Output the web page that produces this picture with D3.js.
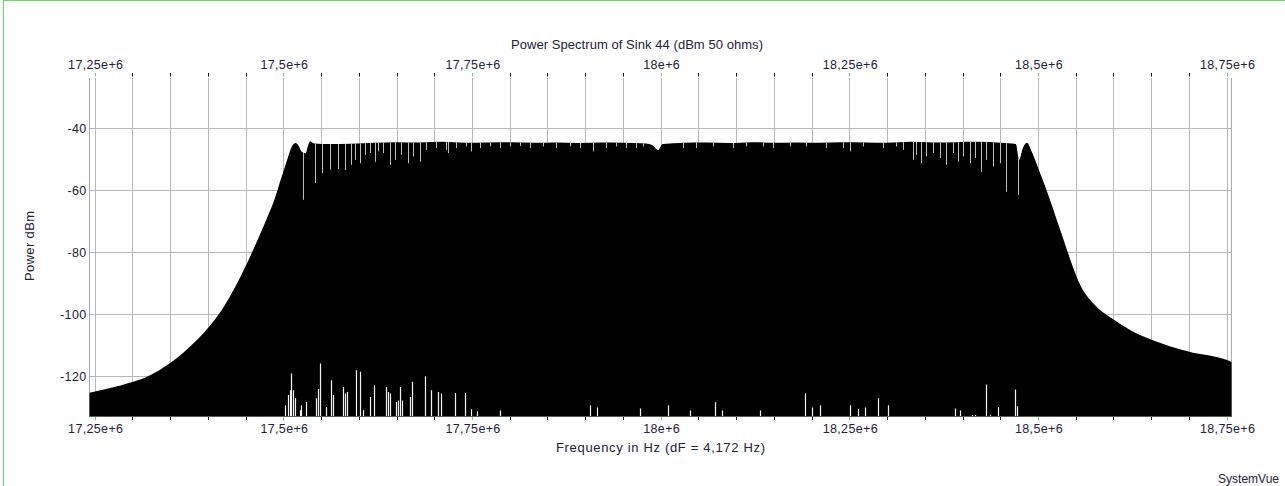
<!DOCTYPE html>
<html>
<head>
<meta charset="utf-8">
<script src="https://cdn.jsdelivr.net/npm/d3@7"></script>
<style>
  html, body { margin: 0; padding: 0; background: #fff; }
  svg { display: block; font-family: "Liberation Sans", Arial, sans-serif; }
</style>
</head>
<body>
<svg id="chart" width="1285" height="486"></svg>
<script>
// Spectrum envelope: frequency (MHz) and peak level (dBm)
const envFreq = [17.2424, 17.2629, 17.2848, 17.2994, 17.3202, 17.3498, 17.3732, 17.3997, 17.4174, 17.4351,
  17.4505, 17.4660, 17.4792, 17.4881, 17.4947, 17.5014, 17.5057, 17.5106, 17.5154, 17.5200,
  17.5235, 17.5290, 17.5320, 17.5349, 17.5400, 17.5600, 17.5900, 17.6200, 17.6500, 17.6800,
  17.7100, 17.7400, 17.7700, 17.8000, 17.8300, 17.8600, 17.8900, 17.9200, 17.9500, 17.9800,
  17.9880, 17.9960, 18.0020, 18.0300, 18.0600, 18.0900, 18.1200, 18.1500, 18.1800, 18.2100,
  18.2400, 18.2700, 18.3000, 18.3300, 18.3600, 18.3900, 18.4200, 18.4500, 18.4700, 18.4745,
  18.4790, 18.4845, 18.4920, 18.5000, 18.5131, 18.5264, 18.5396, 18.5450, 18.5500, 18.5560,
  18.5630, 18.5706, 18.5800, 18.5900, 18.6000, 18.6236, 18.6500, 18.7000, 18.7500, 18.7558];
const envDb = [-125.2, -124.1, -122.8, -121.8, -119.9, -115.6, -110.9, -104.3, -98.6, -91.3,
  -83.8, -75.5, -68.0, -62.5, -57.3, -52.3, -49.0, -45.8, -44.7, -45.8,
  -47.5, -48.0, -45.5, -44.2, -44.8, -45.0, -44.9, -44.6, -44.4, -44.5,
  -44.3, -44.6, -44.5, -44.4, -44.6, -44.5, -44.7, -44.5, -44.6, -44.8,
  -45.3, -46.9, -45.0, -44.6, -44.5, -44.7, -44.4, -44.6, -44.5, -44.6,
  -44.4, -44.5, -44.6, -44.3, -44.5, -44.4, -44.3, -44.6, -45.0, -50.1,
  -46.5, -44.6, -48.0, -53.0, -61.5, -71.0, -80.5, -84.3, -87.5, -90.8,
  -93.6, -95.9, -98.2, -100.1, -101.7, -105.3, -108.1, -112.0, -114.7, -115.3];

// Narrow dips below the in-band peaks: frequency (MHz) and dip level (dBm)
const notchFreq = [17.5260, 17.5415, 17.5517, 17.5614, 17.5724, 17.5813, 17.5901, 17.5945, 17.6011, 17.6078,
  17.6144, 17.6210, 17.6254, 17.6320, 17.6409, 17.6475, 17.6564, 17.6651, 17.6718, 17.6806,
  17.6895, 17.7028, 17.7160, 17.7181, 17.7293, 17.7425, 17.7491, 17.7601, 17.7734, 17.7866,
  17.7999, 17.8131, 17.8264, 17.8440, 17.8618, 17.8794, 17.8926, 17.9103, 17.9280, 17.9413,
  17.9545, 17.9678, 17.9765, 18.0295, 18.0473, 18.0693, 18.0958, 18.1135, 18.1355, 18.1488,
  18.1709, 18.1930, 18.2195, 18.2415, 18.2504, 18.2680, 18.2945, 18.3123, 18.3210, 18.3343,
  18.3388, 18.3454, 18.3520, 18.3608, 18.3697, 18.3785, 18.3873, 18.3939, 18.4005, 18.4094,
  18.4160, 18.4249, 18.4315, 18.4403, 18.4491, 18.4580, 18.4734];
const notchDb = [-63.0, -57.6, -54.4, -53.3, -53.1, -53.4, -51.7, -50.1, -51.2, -48.5,
  -47.9, -50.7, -47.4, -47.9, -51.7, -50.1, -48.5, -51.2, -49.0, -50.7,
  -46.9, -46.3, -46.9, -47.9, -46.3, -45.8, -47.4, -46.3, -45.8, -46.3,
  -45.8, -45.6, -46.3, -45.8, -46.3, -45.8, -46.3, -47.4, -46.3, -45.8,
  -46.3, -46.3, -45.8, -46.3, -46.3, -45.8, -46.3, -45.8, -45.8, -46.3,
  -45.8, -45.8, -46.3, -46.3, -47.4, -45.8, -46.3, -45.8, -46.9, -50.1,
  -48.5, -51.2, -49.0, -47.9, -49.5, -51.7, -47.9, -50.7, -49.0, -51.2,
  -49.5, -54.0, -50.1, -52.2, -51.2, -60.4, -61.4];

// Bins whose minimum stays above the display floor: frequency (MHz) and minimum level (dBm)
const gapFreq = [17.5027, 17.5057, 17.5084, 17.5106, 17.5130, 17.5150, 17.5216, 17.5230, 17.5305, 17.5428,
  17.5455, 17.5481, 17.5570, 17.5636, 17.5654, 17.5790, 17.5817, 17.5843, 17.5968, 17.6011,
  17.6055, 17.6144, 17.6197, 17.6356, 17.6386, 17.6418, 17.6488, 17.6519, 17.6551, 17.6577,
  17.6674, 17.6710, 17.6873, 17.6952, 17.7054, 17.7094, 17.7279, 17.7403, 17.7491, 17.7571,
  17.7866, 17.9059, 17.9152, 17.9722, 18.0093, 18.0384, 18.0715, 18.0808, 18.1312, 18.1908,
  18.2001, 18.2107, 18.2504, 18.2610, 18.2703, 18.2875, 18.3008, 18.3895, 18.3962, 18.4121,
  18.4160, 18.4306, 18.4368, 18.4465, 18.4694, 18.4721];
const gapDb = [-129.3, -126.0, -124.4, -119.0, -124.4, -127.0, -130.9, -129.3, -128.2, -127.0,
  -124.0, -115.8, -129.8, -121.2, -126.0, -123.4, -125.5, -125.0, -118.0, -118.5,
  -130.9, -126.6, -122.8, -123.4, -125.0, -125.5, -128.2, -127.7, -123.4, -127.7,
  -126.6, -121.7, -119.9, -124.4, -125.0, -125.5, -125.3, -125.3, -130.6, -131.2,
  -131.0, -129.3, -130.0, -130.3, -129.3, -131.0, -128.3, -131.0, -131.0, -125.4,
  -130.0, -129.3, -129.3, -130.5, -130.0, -127.0, -129.3, -130.3, -131.0, -132.4,
  -132.4, -122.6, -132.3, -129.8, -124.2, -129.6];

// Axis ticks
const xTickValues = [17.25, 17.5, 17.75, 18.0, 18.25, 18.5, 18.75];
const xTickLabels = ["17,25e+6", "17,5e+6", "17,75e+6", "18e+6", "18,25e+6", "18,5e+6", "18,75e+6"];
const yTickValues = [-40, -60, -80, -100, -120];
const yTickLabels = ["-40", "-60", "-80", "-100", "-120"];

const titleText = "Power Spectrum of Sink 44 (dBm 50 ohms)";
const xAxisTitle = "Frequency in Hz (dF = 4,172 Hz)";
const yAxisTitle = "Power dBm";
const brandText = "SystemVue";

// ---- layout ----
const plot = { left: 89.5, right: 1231.5, top: 78, bottom: 416.5 };
const textColor = "#22223a";
const gridColor = "#b9b9b9";
const green = "#5fe35f";
const fontStack = "Liberation Sans, Arial, sans-serif";

const x = d3.scaleLinear().domain([17.2424, 18.7558]).range([plot.left, plot.right]);
const y = d3.scaleLinear().domain([-132.9, -23.7]).range([plot.bottom, plot.top]);
const crisp = v => Math.round(v - 0.5) + 0.5;

const svg = d3.select("#chart");

// window frame
svg.append("line").attr("x1", 3.5).attr("x2", 3.5).attr("y1", 0).attr("y2", 486)
  .attr("stroke", green).attr("stroke-width", 1);
svg.append("line").attr("x1", 3).attr("x2", 1285).attr("y1", 0.5).attr("y2", 0.5)
  .attr("stroke", green).attr("stroke-width", 1);

// grid
const minorTicks = d3.range(0, 31).map(i => +(17.25 + i * 0.05).toFixed(2));
const grid = svg.append("g").attr("stroke", gridColor).attr("stroke-width", 1);
grid.selectAll("line.v").data(minorTicks).join("line").attr("class", "v")
  .attr("x1", d => crisp(x(d))).attr("x2", d => crisp(x(d)))
  .attr("y1", plot.top).attr("y2", plot.bottom);
grid.selectAll("line.h").data(yTickValues).join("line").attr("class", "h")
  .attr("x1", plot.left).attr("x2", plot.right)
  .attr("y1", d => crisp(y(d))).attr("y2", d => crisp(y(d)));
grid.append("line").attr("x1", plot.left).attr("x2", plot.left).attr("y1", plot.top).attr("y2", plot.bottom)
  .attr("stroke", "#a8a8a8");
grid.append("line").attr("x1", plot.right).attr("x2", plot.right).attr("y1", plot.top).attr("y2", plot.bottom)
  .attr("stroke", "#a8a8a8");

// spectrum
const envelope = d3.zip(envFreq, envDb).map(([f, db]) => ({ f, db }));
const area = d3.area()
  .x(d => x(d.f))
  .y0(plot.bottom)
  .y1(d => y(d.db))
  .curve(d3.curveMonotoneX);

svg.append("clipPath").attr("id", "spectrum-clip")
  .append("path").attr("d", area(envelope));

svg.append("path").attr("d", area(envelope)).attr("fill", "#000");

const dips = svg.append("g").attr("clip-path", "url(#spectrum-clip)");
dips.selectAll("line.notch").data(d3.zip(notchFreq, notchDb)).join("line").attr("class", "notch")
  .attr("x1", d => crisp(x(d[0]))).attr("x2", d => crisp(x(d[0])))
  .attr("y1", plot.top).attr("y2", d => y(d[1]))
  .attr("stroke", "#bdbdbd").attr("stroke-width", 1);
dips.selectAll("line.gap").data(d3.zip(gapFreq, gapDb)).join("line").attr("class", "gap")
  .attr("x1", d => crisp(x(d[0]))).attr("x2", d => crisp(x(d[0])))
  .attr("y1", plot.bottom).attr("y2", d => y(d[1]))
  .attr("stroke", "#f4f4f4").attr("stroke-width", 1.2);

// bottom axis line
svg.append("line").attr("x1", plot.left - 0.5).attr("x2", plot.right + 0.5)
  .attr("y1", plot.bottom).attr("y2", plot.bottom)
  .attr("stroke", "#5a5a5a").attr("stroke-width", 1);

// top / bottom tick marks (minor black, major green)
const majorSet = new Set(xTickValues.map(v => v.toFixed(2)));
const tickMarks = svg.append("g").attr("stroke-width", 1);
minorTicks.forEach(v => {
  const xc = crisp(x(v));
  const col = majorSet.has(v.toFixed(2)) ? green : "#111";
  tickMarks.append("line").attr("x1", xc).attr("x2", xc).attr("y1", 73).attr("y2", 76.5).attr("stroke", col);
  tickMarks.append("line").attr("x1", xc).attr("x2", xc).attr("y1", plot.bottom + 0.5).attr("y2", 420).attr("stroke", col);
});

// tick labels
const styleLabels = g => g.selectAll("text")
  .attr("fill", textColor).attr("font-size", 12.5).attr("font-family", fontStack)
  .attr("letter-spacing", 0.35);

const topAxis = d3.axisTop(x).tickValues(xTickValues)
  .tickFormat((d, i) => xTickLabels[i]).tickSize(0).tickPadding(0);
svg.append("g").attr("transform", "translate(0,69)").call(topAxis)
  .call(g => g.select(".domain").remove())
  .call(styleLabels)
  .call(g => g.selectAll("text").attr("dy", 0));

const bottomAxis = d3.axisBottom(x).tickValues(xTickValues)
  .tickFormat((d, i) => xTickLabels[i]).tickSize(0).tickPadding(0);
svg.append("g").attr("transform", "translate(0,433)").call(bottomAxis)
  .call(g => g.select(".domain").remove())
  .call(styleLabels)
  .call(g => g.selectAll("text").attr("dy", 0));

const leftAxis = d3.axisLeft(y).tickValues(yTickValues)
  .tickFormat((d, i) => yTickLabels[i]).tickSize(0).tickPadding(3);
svg.append("g").attr("transform", `translate(${plot.left},0)`).call(leftAxis)
  .call(g => g.select(".domain").remove())
  .call(styleLabels);

// titles
svg.append("text").attr("x", 637).attr("y", 49).attr("text-anchor", "middle")
  .attr("font-size", 13).attr("fill", textColor)
  .attr("textLength", 252).attr("lengthAdjust", "spacing").text(titleText);
svg.append("text").attr("x", (plot.left + plot.right) / 2).attr("y", 452).attr("text-anchor", "middle")
  .attr("font-size", 13).attr("fill", textColor)
  .attr("textLength", 209).attr("lengthAdjust", "spacing").text(xAxisTitle);
svg.append("text").attr("transform", "translate(34,246) rotate(-90)").attr("text-anchor", "middle")
  .attr("font-size", 13).attr("fill", textColor)
  .attr("textLength", 70).attr("lengthAdjust", "spacing").text(yAxisTitle);
svg.append("text").attr("x", 1279).attr("y", 483).attr("text-anchor", "end")
  .attr("font-size", 12).attr("fill", textColor).text(brandText);
</script>
</body>
</html>
